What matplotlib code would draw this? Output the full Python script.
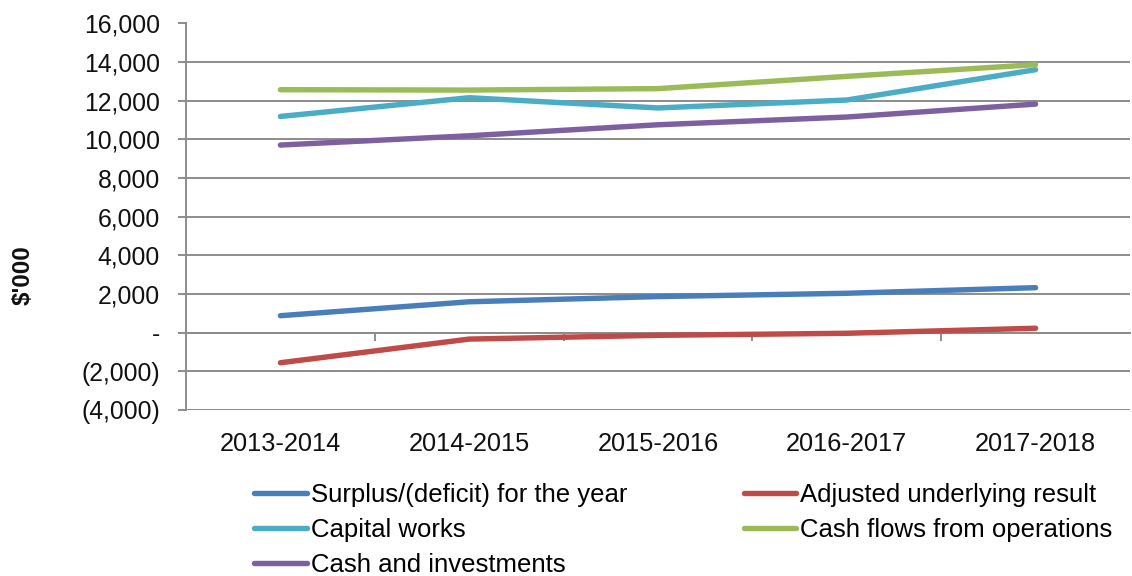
import matplotlib
matplotlib.use("Agg")
import matplotlib.pyplot as plt
from matplotlib.ticker import FuncFormatter, FixedLocator

plt.rcParams['font.family'] = ['Liberation Sans', 'DejaVu Sans']

years = ["2013-2014", "2014-2015", "2015-2016", "2016-2017", "2017-2018"]

surplus = [880, 1600, 1870, 2040, 2330]
adjusted = [-1555, -330, -135, -30, 230]
capital_works = [11190, 12160, 11630, 12040, 13610]
cash_flows = [12575, 12555, 12630, 13265, 13870]
cash_investments = [9710, 10190, 10760, 11160, 11830]

series = [
    ("Surplus/(deficit) for the year", surplus, "#4a7ebb"),
    ("Adjusted underlying result", adjusted, "#be4b48"),
    ("Capital works", capital_works, "#4bacc6"),
    ("Cash flows from operations", cash_flows, "#9bbb59"),
    ("Cash and investments", cash_investments, "#7d60a0"),
]

grid_col = "#8c8c8c"

fig = plt.figure(figsize=(11.32, 5.76), dpi=100)
ax = fig.add_axes([186 / 1132, 1 - 410 / 576, (1130 - 186) / 1132, (410 - 23.5) / 576])

x = list(range(len(years)))
handles = {}
for name, vals, col in series:
    (ln,) = ax.plot(x, vals, color=col, lw=3.9, solid_capstyle='round',
                    solid_joinstyle='round', zorder=3, label=name)
    handles[name] = ln

ax.set_xlim(-0.5, len(years) - 0.5)
ax.set_ylim(-4000, 16000)
ax.set_yticks(range(-4000, 16001, 2000))


def fmt(v, pos):
    v = int(round(v))
    if v == 0:
        return "-"
    if v < 0:
        return "({:,})".format(-v)
    return "{:,}".format(v)


ax.yaxis.set_major_formatter(FuncFormatter(fmt))
ax.yaxis.grid(True, color=grid_col, lw=1.4)
ax.set_axisbelow(True)
ax.tick_params(axis='y', length=6, width=1.4, color=grid_col, pad=12.7,
               labelsize=17.8, labelcolor='#111111')

for s in ('top', 'right'):
    ax.spines[s].set_visible(False)
ax.spines['left'].set_color(grid_col)
ax.spines['left'].set_linewidth(1.4)

# category axis drawn along the zero line, with ticks between categories
ax.spines['bottom'].set_position(('data', 0))
ax.spines['bottom'].set_color(grid_col)
ax.spines['bottom'].set_linewidth(1.4)
ax.xaxis.set_major_locator(FixedLocator([i + 0.5 for i in range(len(years) - 1)]))
ax.tick_params(axis='x', length=6, width=1.4, color=grid_col, direction='out',
               labelbottom=False)

# category labels along the bottom of the plot
ax2 = ax.twiny()
ax2.set_xlim(ax.get_xlim())
for s in ax2.spines.values():
    s.set_visible(False)
ax2.xaxis.set_ticks_position('bottom')
ax2.xaxis.set_label_position('bottom')
ax2.set_xticks(x)
ax2.set_xticklabels(years)
ax2.tick_params(axis='x', length=0, pad=16, labelsize=18.3, labelcolor='#111111',
                labelbottom=True, labeltop=False)

fig.text(23 / 1132, 1 - 275 / 576, "$'000", rotation=90, ha='center', va='center',
         fontsize=17.5, fontweight='bold', color='#111111')

order = ["Surplus/(deficit) for the year", "Capital works", "Cash and investments",
         "Adjusted underlying result", "Cash flows from operations"]
fig.legend([handles[n] for n in order], order, ncol=2, frameon=False,
           loc='upper left', bbox_to_anchor=(254 / 1132, 1 - 483 / 576),
           fontsize=18.5, handlelength=2.05, handletextpad=0.15, columnspacing=4.55,
           labelspacing=0.42, borderpad=0, borderaxespad=0)

fig.savefig("out.png", dpi=100)
